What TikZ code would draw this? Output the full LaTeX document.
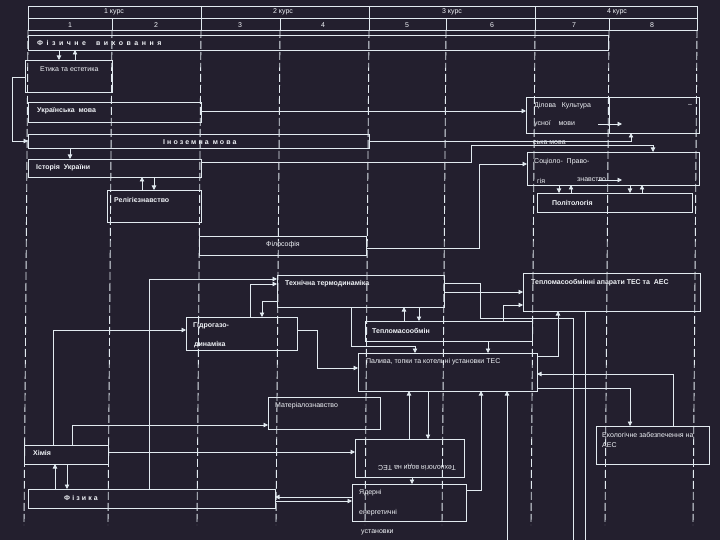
\documentclass[tikz,border=0pt]{standalone}
\usepackage{fontspec}
\setmainfont{Liberation Sans}
\newfontfamily\spwide[LetterSpace=50]{Liberation Sans}
\newfontfamily\spmid[LetterSpace=30]{Liberation Sans}
\usetikzlibrary{arrows.meta,fit}
\definecolor{bg}{HTML}{231F2E}
\definecolor{lc}{HTML}{E2EAF0}
\definecolor{tc}{HTML}{F0F3F7}
\newcommand\fsz{\fontsize{7}{8}\selectfont}
\newcommand\mkbox[5]{\coordinate (#1-a) at (#2,#3); \coordinate (#1-b) at (#4,#5); \node[box, fit=(#1-a)(#1-b)] (#1) {};}
\tikzset{
  ln/.style={draw=lc, line width=0.9pt},
  dashv/.style={draw=lc, line width=0.9pt, dash pattern=on 8pt off 3pt},
  box/.style={draw=lc, line width=0.9pt, inner sep=0pt, outer sep=0pt},
  arr/.style={draw=lc, line width=0.8pt, -{Triangle[length=4.5pt,width=4.5pt]}},
  plain/.style={draw=lc, line width=0.8pt},
  txt/.style={text=tc, font=\fsz, inner sep=0pt, anchor=west},
  btxt/.style={txt, font=\fsz\bfseries},
}
\begin{document}
\begin{tikzpicture}[x=1pt,y=-1pt]
\useasboundingbox[fill=bg] (0,0) rectangle (720,540);
% header grid
\draw[ln] (28,6) rectangle (697,30);
\draw[ln] (28,18) -- (697,18);
\foreach \x in {201,369,535} \draw[ln] (\x,6) -- (\x,30);
\foreach \x in {112,280,446,609} \draw[ln] (\x,18) -- (\x,30);
\foreach \x in {28,112,201,280,369,446,535,609,697} \draw[dashv] (\x,30) -- (\x-4,525);
\node[txt,anchor=center] (k1) at (114,12) {1 курс};
\node[txt,anchor=center] (k2) at (283,12) {2 курс};
\node[txt,anchor=center] (k3) at (452,12) {3 курс};
\node[txt,anchor=center] (k4) at (617,12) {4 курс};
\foreach \n/\x in {1/70,2/156,3/240,4/323,5/407,6/492,7/574,8/652}
  \node[txt,anchor=center] (s\n) at (\x,25) {\n};
% boxes
\mkbox{phys}{28}{35}{608}{50}
\mkbox{eth}{25}{60}{112}{92}
\mkbox{ukr}{28}{102}{201}{122}
\mkbox{ino}{28}{134}{369}{148}
\mkbox{ist}{28}{159}{201}{177}
\mkbox{rel}{107}{190}{201}{222}
\mkbox{dil}{526}{97}{699}{133}
\mkbox{soc}{527}{152}{699}{185}
\mkbox{pol}{537}{193}{692}{212}
\mkbox{fil}{199}{236}{366}{255}
\mkbox{tex}{277}{275}{444}{307}
\mkbox{hyd}{186}{317}{297}{350}
\mkbox{tmo}{365}{321}{532}{341}
\mkbox{tes}{523}{273}{700}{311}
\mkbox{pal}{358}{353}{537}{391}
\mkbox{mat}{268}{397}{380}{429}
\mkbox{him}{24}{445}{108}{464}
\mkbox{fiz}{28}{489}{275}{508}
\mkbox{tep}{355}{439}{464}{477}
\mkbox{yad}{352}{484}{466}{521}
\mkbox{eco}{596}{426}{709}{464}
\draw[ln] (609,97) -- (609,133);
% texts
\node[txt,font=\fsz\spwide\bfseries] (physT) at (37,43) {Фізичне\hspace{10pt}виховання};
\node[txt] (ethT) at (40,69) {Етика та естетика};
\node[btxt] (ukrT) at (37,111) {Українська\ \ мова};
\node[txt,font=\fsz\spmid\bfseries] (inoT) at (163,142) {Іноземна мова};
\node[btxt] (istT) at (36,168) {Історія\ \ України};
\node[btxt] (relT) at (114,200) {Релігієзнавство};
\node[txt] (dilT1) at (534,106) {Ділова\ \ \ Культура};
\node[txt] (dilT2) at (534,124) {усної\ \ \ \ мови};
\node[txt] (dilT3) at (688,105) {–};
\node[txt] (dilT4) at (533,143) {ська мова};
\node[txt] (socT1) at (534,162) {Соціоло-\ \ Право-};
\node[txt] (socT2) at (537,181) {гія};
\node[txt] (socT3) at (577,180) {знавство};
\node[btxt] (polT) at (552,203) {Політологія};
\node[txt,anchor=center] (filT) at (283,245) {Філософія};
\node[btxt] (texT) at (285,284) {Технічна термодинаміка};
\node[btxt] (hydT1) at (193,326) {Гідрогазо-};
\node[btxt] (hydT2) at (194,345) {динаміка};
\node[btxt] (tmoT) at (372,331) {Тепломасообмін};
\node[btxt] (tesT) at (531,283) {Тепломасообмінні апарати ТЕС та\ \ АЕС};
\node[txt] (palT) at (366,362) {Палива, топки та котельні установки ТЕС};
\node[txt] (matT) at (275,406) {Матеріалознавство};
\node[btxt] (himT) at (33,453) {Хімія};
\node[txt,font=\fsz\spmid\bfseries] (fizT) at (64,498) {Фізика};
\node[txt,anchor=center,rotate=180] (tepT) at (417,467) {Технологія води на ТЕС};
\node[txt] (yadT1) at (359,493) {Ядерні};
\node[txt] (yadT2) at (359,513) {енергетичні};
\node[txt] (yadT3) at (361,532) {установки};
\node[txt] (ecoT1) at (602,435) {Екологічне забезпечення на};
\node[txt] (ecoT2) at (602,445) {АЕС};
% free ends
\coordinate (da1) at (598,124); \coordinate (da2) at (622,124);
\coordinate (sa1) at (598,180); \coordinate (sa2) at (622,180);
\coordinate (bot1) at (573,540); \coordinate (bot2) at (585,540); \coordinate (bot3) at (507,540);
% connectors
\draw[arr] (phys.south -| 59,0) -- (eth.north -| 59,0);
\draw[arr] (eth.north -| 75,0) -- (phys.south -| 75,0);
\draw[arr] (eth.west |- 0,77) -- ++(-13,0) |- (ino.west |- 0,141);
\draw[arr] (ukr.east |- 0,111) -- (dil.west |- 0,111);
\draw[arr] (da1) -- (da2);
\draw[arr] (sa1) -- (sa2);
\draw[arr] (ino.south -| 70,0) -- (ist.north -| 70,0);
\draw[arr] (ino.east |- 0,141) -| (dil.south -| 631,0);
\draw[arr] (ist.east |- 0,162) -| (471,145) -| (soc.north -| 653,0);
\draw[arr] (rel.north -| 142,0) -- (ist.south -| 142,0);
\draw[arr] (ist.south -| 154,0) -- (rel.north -| 154,0);
\draw[arr] (fil.east |- 0,248) -| (479,164) -- (soc.west |- 0,164);
\draw[arr] (soc.south -| 559,0) -- (pol.north -| 559,0);
\draw[arr] (pol.north -| 571,0) -- (soc.south -| 571,0);
\draw[arr] (soc.south -| 630,0) -- (pol.north -| 630,0);
\draw[arr] (pol.north -| 642,0) -- (soc.south -| 642,0);
\draw[arr] (fiz.north -| 149,0) |- (tex.west |- 0,279);
\draw[arr] (hyd.north -| 250,0) |- (tex.west |- 0,284);
\draw[arr] (tex.west |- 0,301) -| (hyd.north -| 262,0);
\draw[arr] (him.north -| 53,0) |- (hyd.west |- 0,330);
\draw[arr] (hyd.east |- 0,330) -| (317,368) -- (pal.west |- 0,368);
\draw[arr] (tmo.north -| 404,0) -- (tex.south -| 404,0);
\draw[arr] (tex.south -| 419,0) -- (tmo.north -| 419,0);
\draw[arr] (tex.south -| 351,0) |- (415,346) -- (pal.north -| 415,0);
\draw[arr] (tmo.south -| 488,0) -- (pal.north -| 488,0);
\draw[arr] (tex.east |- 0,292) -- (tes.west |- 0,292);
\draw[plain] (tex.east |- 0,283) -| (480,318) -| (bot1);
\draw[plain] (tes.south -| 585,0) -- (bot2);
\draw[arr] (tmo.north -| 503,0) |- (tes.west |- 0,305);
\draw[arr] (pal.east |- 0,356) -| (tes.south -| 558,0);
\draw[arr] (eco.north -| 673,0) |- (pal.east |- 0,374);
\draw[arr] (pal.east |- 0,388) -| (eco.north -| 630,0);
\draw[arr] (tep.north -| 409,0) -- (pal.south -| 409,0);
\draw[arr] (pal.south -| 428,0) -- (tep.north -| 428,0);
\draw[arr] (yad.east |- 0,490) -| (pal.south -| 481,0);
\draw[arr] (bot3) -- (pal.south -| 507,0);
\draw[arr] (him.north -| 72,0) |- (mat.west |- 0,425);
\draw[arr] (him.east |- 0,452) -- (tep.west |- 0,452);
\draw[arr] (fiz.north -| 55,0) -- (him.south -| 55,0);
\draw[arr] (him.south -| 67,0) -- (fiz.north -| 67,0);
\draw[arr] (yad.west |- 0,497) -- (fiz.east |- 0,497);
\draw[arr] (fiz.east |- 0,501) -- (yad.west |- 0,501);
\draw[arr] (tep.south -| 412,0) -- (yad.north -| 412,0);
\end{tikzpicture}
\end{document}
